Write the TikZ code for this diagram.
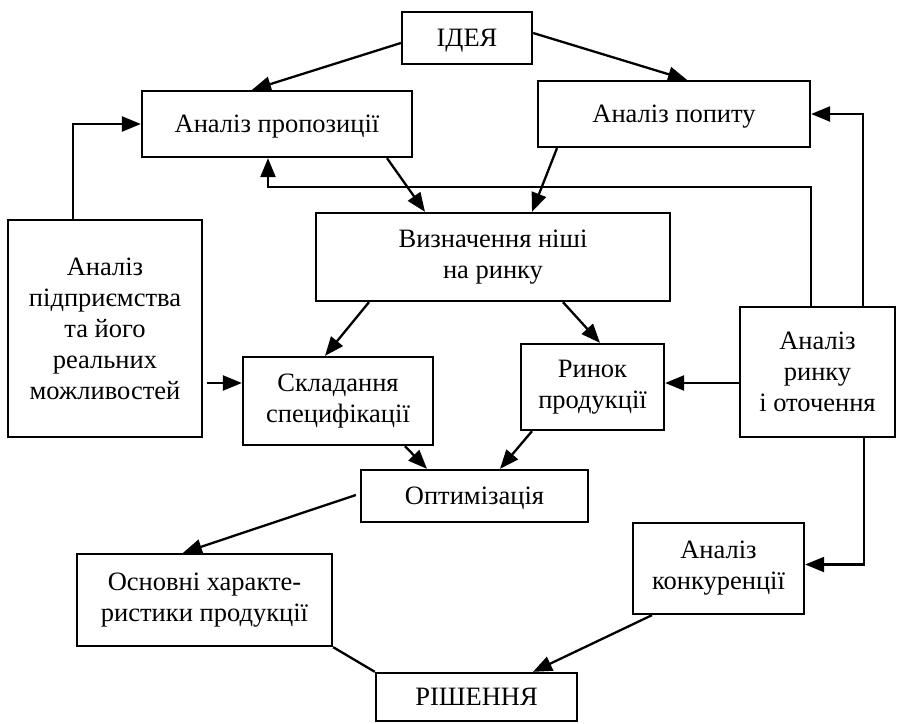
\documentclass[tikz,border=0pt]{standalone}
\usepackage{fontspec}
\setmainfont{Liberation Serif}
\usetikzlibrary{arrows.meta,calc}
\begin{document}
\begin{tikzpicture}[x=1pt,y=-1pt,
  box/.style={draw,line width=2.3pt,inner sep=0pt,align=center,font=\fontsize{26.5}{31}\selectfont},
  sbox/.style={draw,line width=2.3pt,inner sep=0pt,text height=17.5pt,text depth=0pt,font=\fontsize{26.5}{31}\selectfont},
  arr/.style={line width=2.3pt,-{Triangle[length=19pt,width=15pt]}},
  ln/.style={line width=2.3pt}]
\useasboundingbox (0,0) rectangle (897,723);
\node[sbox,minimum width=130pt,minimum height=52pt] (idea) at (467,38) {ІДЕЯ};
\node[sbox,minimum width=270pt,minimum height=66pt] (prop) at (277,124) {Аналіз пропозиції};
\node[sbox,minimum width=272pt,minimum height=66pt] (popyt) at (674,114) {Аналіз попиту};
\node[box,minimum width=354pt,minimum height=88pt] (nisha) at (493,257) {Визначення ніші\\на ринку};
\node[box,minimum width=194pt,minimum height=217pt] (pidpr) at (105,328.5) {Аналіз\\підприємства\\та його\\реальних\\можливостей};
\node[box,minimum width=190pt,minimum height=88pt] (spec) at (338,401) {Складання\\специфікації};
\node[box,minimum width=143pt,minimum height=86pt] (rynok) at (592.5,387) {Ринок\\продукції};
\node[box,minimum width=155pt,minimum height=130pt] (rynkuot) at (817.5,372) {Аналіз\\ринку\\і оточення};
\node[sbox,minimum width=227pt,minimum height=52pt] (optym) at (474.5,496) {Оптимізація};
\node[box,minimum width=255pt,minimum height=92pt] (osnov) at (204.5,600) {Основні характе-\\ристики продукції};
\node[box,minimum width=171pt,minimum height=91pt] (konk) at (718.5,568.5) {Аналіз\\конкуренції};
\node[sbox,minimum width=201pt,minimum height=48pt] (rish) at (476.5,697) {РІШЕННЯ};
\coordinate (lv) at (500,187);
\coordinate (h1) at (0,383);
\draw[arr] ($(idea.west)+(0,5)$) -- ($(prop.north)+(-25,0)$);
\draw[arr] ($(idea.east)+(0,-5)$) -- ($(popyt.north)+(13,0)$);
\draw[arr] ($(prop.south)+(110,0)$) -- ($(nisha.north)+(-68,0)$);
\draw[arr] ($(popyt.south)+(-117,0)$) -- ($(nisha.north)+(39,0)$);
\draw[arr] ($(pidpr.north)+(-32,0)$) |- (prop.west);
\draw[arr] ($(rynkuot.north)+(-6.5,0)$) |- (lv) -| ($(prop.south)+(-9,0)$);
\draw[arr] ($(rynkuot.north)+(45.5,0)$) |- (popyt.east);
\draw[arr] ($(nisha.south)+(-124,0)$) -- ($(spec.north)+(-13,0)$);
\draw[arr] ($(nisha.south)+(70,0)$) -- ($(rynok.north)+(7.5,0)$);
\draw[arr] ($(pidpr.east |- h1)+(4,0)$) -- (spec.west |- h1);
\draw[arr] (rynkuot.west |- h1) -- (rynok.east |- h1);
\draw[arr] ($(spec.south)+(67,0)$) -- ($(optym.north)+(-47.5,0)$);
\draw[arr] ($(rynok.south)+(-60.5,0)$) -- ($(optym.north)+(25.5,0)$);
\draw[arr] ($(optym.west)+(-4,-1)$) -- ($(osnov.north)+(-21.5,0)$);
\draw[arr] ($(rynkuot.south)+(46.5,0)$) |- ($(konk.east)+(0,-4)$);
\draw[arr] ($(konk.south)+(-66.5,0)$) -- ($(rish.north)+(56.5,0)$);
\draw[ln] (osnov.south east) -- (rish.north west);
\end{tikzpicture}
\end{document}
